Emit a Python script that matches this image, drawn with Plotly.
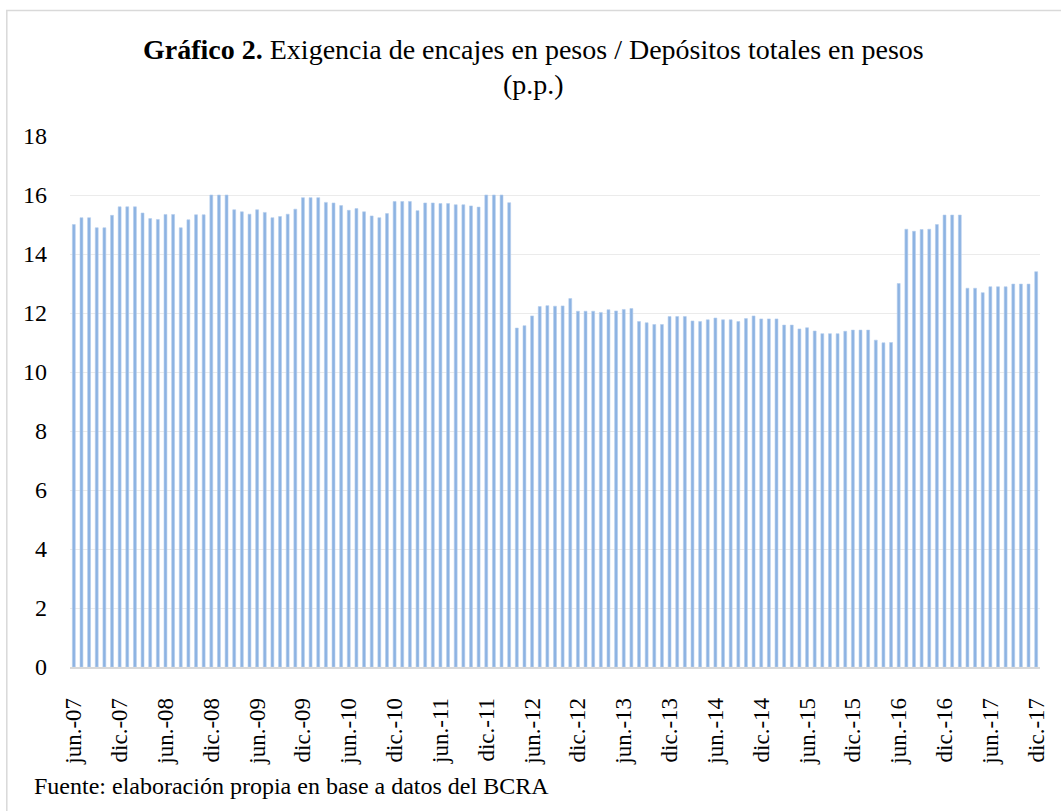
import plotly.graph_objects as go

# ---- data ----
month_abbr = ["ene.", "feb.", "mar.", "abr.", "may.", "jun.",
              "jul.", "ago.", "sep.", "oct.", "nov.", "dic."]
years = list(range(2007, 2018))

values_2007_2010 = [15.0, 15.23, 15.23, 14.89, 14.89, 15.31, 15.6, 15.6, 15.6, 15.39,
                    15.2, 15.17, 15.34, 15.34, 14.89, 15.16, 15.33, 15.33, 16.0, 16.0,
                    16.0, 15.5, 15.43, 15.35, 15.5, 15.41, 15.23, 15.27, 15.35, 15.52,
                    15.91, 15.91, 15.91, 15.75, 15.73, 15.64, 15.48, 15.54]
values_2010_2012 = [15.43, 15.29, 15.23, 15.37, 15.78, 15.78, 15.78, 15.47, 15.73, 15.73,
                    15.71, 15.71, 15.67, 15.67, 15.63, 15.59, 16.0, 16.0, 16.0, 15.74]
values_2012_2013 = [11.49, 11.57, 11.90, 12.22, 12.25, 12.23, 12.24, 12.49, 12.06, 12.06,
                    12.06, 12.02, 12.11, 12.07, 12.12, 12.15]
values_2013_2016 = [11.71, 11.67, 11.61, 11.61, 11.88, 11.88, 11.88, 11.73, 11.71, 11.77,
                    11.83, 11.77, 11.77, 11.71, 11.81, 11.90, 11.80, 11.80, 11.80, 11.59,
                    11.59, 11.46, 11.50, 11.39, 11.30, 11.30, 11.30, 11.38, 11.42, 11.42,
                    11.42, 11.08, 10.99, 11.0]
values_2016_2017 = [13.0, 14.84, 14.77, 14.83, 14.84, 15.0, 15.32, 15.32, 15.32, 12.84,
                    12.84, 12.69, 12.89, 12.89, 12.89, 12.98, 12.98, 12.98, 13.40]

values = (values_2007_2010 + values_2010_2012 + values_2012_2013
          + values_2013_2016 + values_2016_2017)

# month categories jun.-07 ... dic.-17
categories = [f"{m}-{str(y)[2:]}" for y in years for i, m in enumerate(month_abbr)
              if not (y == 2007 and i < 5)]
tick_labels = categories[::6]
y_ticks = [0, 2, 4, 6, 8, 10, 12, 14, 16, 18]

title_bold = "Gráfico 2."
title_rest = " Exigencia de encajes en pesos / Depósitos totales en pesos"
title_line2 = "(p.p.)"
source_text = "Fuente: elaboración propia en base a datos del BCRA"

# ---- layout geometry (pixels) ----
W, H = 1061, 811
PL, PR, PT, PB = 69.5, 1044, 136, 667   # plot area


def px(x):
    return (x - PL) / (PR - PL)


def py(y):
    return (PB - y) / (PB - PT)


FONT = "Liberation Serif, Times New Roman, serif"

fig = go.Figure(go.Bar(
    x=categories, y=values,
    marker=dict(color="#8DB3E2", line=dict(color="#B4CDEC", width=0.6)),
))

fig.update_layout(
    width=W, height=H,
    margin=dict(l=PL, r=W - PR, t=PT, b=H - PB, pad=0),
    paper_bgcolor="white", plot_bgcolor="white",
    bargap=0.62,
    showlegend=False,
    font=dict(family=FONT, size=23, color="#000000"),
)

fig.update_xaxes(
    type="category",
    categoryorder="array", categoryarray=categories,
    tickmode="array", tickvals=tick_labels, ticktext=tick_labels,
    tickangle=-90,
    tickfont=dict(family=FONT, size=23, color="#000000"),
    showline=True, linecolor="#D9D9D9", linewidth=1.5,
    showgrid=False, ticks="",
    ticklabelstandoff=20,
    range=[-0.5, len(categories) - 0.5],
)

fig.update_yaxes(
    range=[0, 18],
    tickmode="array", tickvals=y_ticks,
    tickfont=dict(family=FONT, size=24, color="#000000"),
    showgrid=True, gridcolor="#EBEBEB", gridwidth=1.2,
    zeroline=False, showline=False, ticks="",
    ticklabelstandoff=22,
)

# outer frame
fig.add_shape(type="rect", xref="paper", yref="paper",
              x0=px(6), x1=px(1075), y0=py(830), y1=py(10.5),
              line=dict(color="#D9D9D9", width=1.5), fillcolor="rgba(0,0,0,0)",
              layer="below")

# title
fig.add_annotation(xref="paper", yref="paper", x=px(535), y=py(49),
                   xanchor="center", yanchor="middle", showarrow=False,
                   text=f"<b>{title_bold}</b>{title_rest}",
                   font=dict(family=FONT, size=28, color="#000000"))
fig.add_annotation(xref="paper", yref="paper", x=px(535), y=py(84),
                   xanchor="center", yanchor="middle", showarrow=False,
                   text=title_line2,
                   font=dict(family=FONT, size=28, color="#000000"))

# source
fig.add_annotation(xref="paper", yref="paper", x=px(31), y=py(786),
                   xanchor="left", yanchor="middle", showarrow=False,
                   text=source_text,
                   font=dict(family=FONT, size=24, color="#000000"))

fig.write_html("out.html",
               config={"displayModeBar": False},
               post_script="document.body.style.margin='0px';document.body.style.overflow='hidden';")
